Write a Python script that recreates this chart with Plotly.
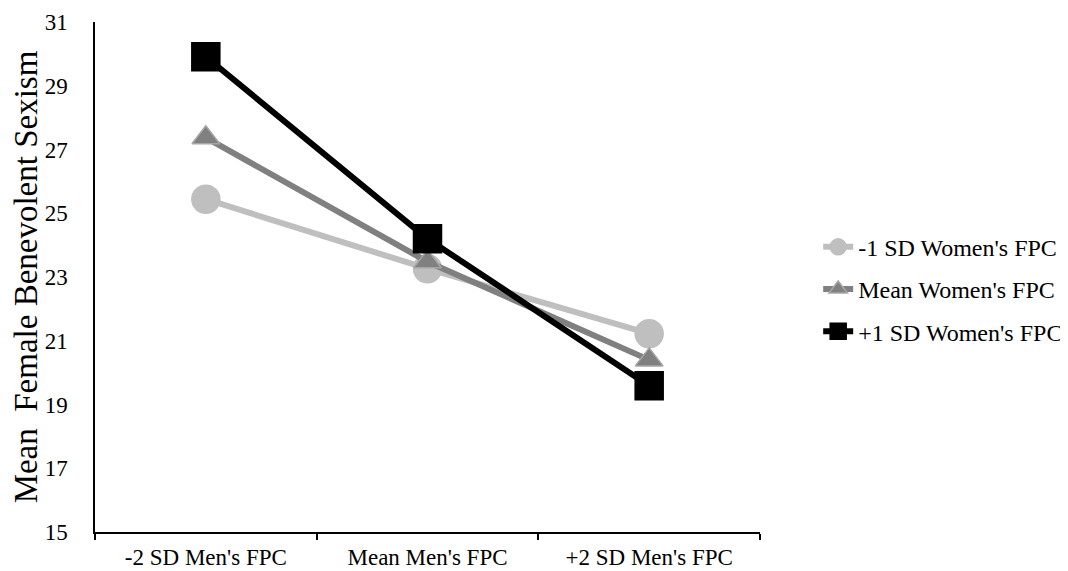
import plotly.graph_objects as go

categories = ["-2 SD Men's FPC", "Mean Men's FPC", "+2 SD Men's FPC"]
series_names = ["-1 SD Women's FPC", "Mean Women's FPC", "+1 SD Women's FPC"]
low_fpc = [25.44, 23.26, 21.22]
mean_fpc = [27.37, 23.48, 20.40]
high_fpc = [29.91, 24.20, 19.59]
y_ticks = [15, 17, 19, 21, 23, 25, 27, 29, 31]

FONT = "Liberation Serif"

fig = go.Figure()
styles = [
    dict(color="#bfbfbf", symbol="circle", size=28, mline="#bfbfbf"),
    dict(color="#808080", symbol="triangle-up", size=24, mline="#a6a6a6"),
    dict(color="#000000", symbol="square", size=28, mline="#000000"),
]
for name, vals, st in zip(series_names, [low_fpc, mean_fpc, high_fpc], styles):
    fig.add_trace(go.Scatter(
        x=categories, y=vals, name=name, mode="lines+markers",
        legendgroup=name,
        line=dict(color=st["color"], width=6),
        marker=dict(symbol=st["symbol"], size=st["size"], color=st["color"],
                    line=dict(color=st["mline"], width=1.5)),
    ))

fig.update_layout(
    width=1068, height=571,
    margin=dict(l=86.5, r=316, t=14, b=47, autoexpand=False),
    paper_bgcolor="white", plot_bgcolor="white",
    font=dict(family=FONT, size=23, color="#000000"),
    showlegend=True,
    legend=dict(x=1.0875, xanchor="left", y=0.476, yanchor="middle",
                font=dict(family=FONT, size=24, color="#000000"),
                tracegroupgap=8, bgcolor="rgba(0,0,0,0)"),
    xaxis=dict(
        type="category", range=[-0.5, 2.5], automargin=False,
        showline=True, linecolor="#000000", linewidth=1.5,
        ticks="outside", tickson="boundaries", ticklen=6, tickcolor="#000000", tickwidth=1.5,
        showgrid=False, zeroline=False,
        tickfont=dict(family=FONT, size=23, color="#000000"),
        ticklabelstandoff=4,
    ),
    yaxis=dict(
        range=[15, 31], tickvals=y_ticks, ticktext=[str(v) for v in y_ticks],
        automargin=False,
        showline=True, linecolor="#000000", linewidth=1.5,
        ticks="", showgrid=False, zeroline=False,
        tickfont=dict(family=FONT, size=23, color="#000000"),
        ticklabelstandoff=21,
        title=dict(text="Mean\u00a0 Female Benevolent Sexism",
                   font=dict(family=FONT, size=33, color="#000000"),
                   standoff=8),
    ),
)

fig.write_html("out.html")
